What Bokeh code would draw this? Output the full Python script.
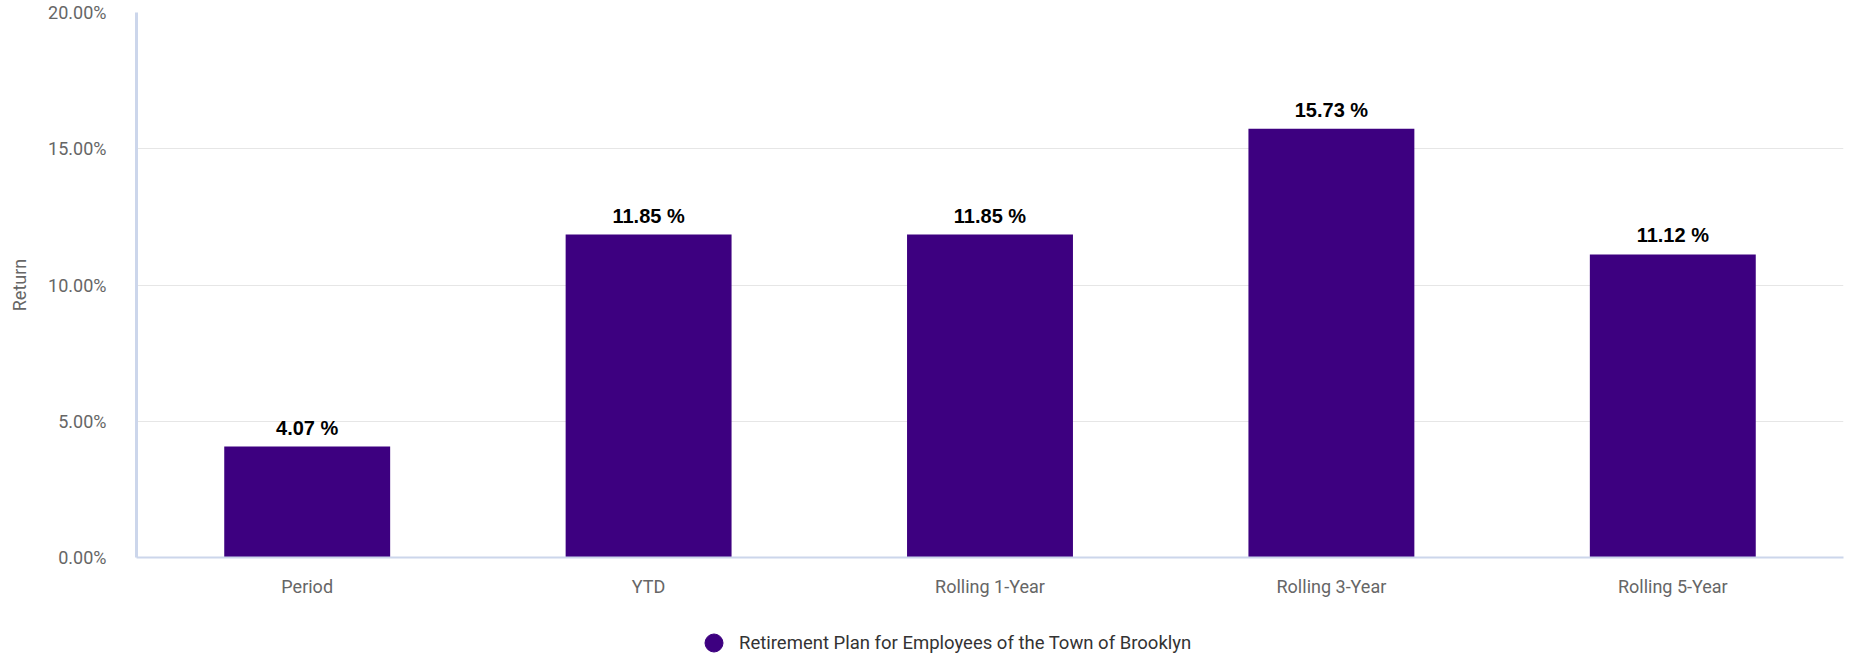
from bokeh.plotting import figure
from bokeh.layouts import column
from bokeh.models import (ColumnDataSource, FactorRange, Range1d, FixedTicker,
                          PrintfTickFormatter, LabelSet, Legend, LegendItem)
from bokeh.core.properties import value
from bokeh.embed import file_html
from bokeh.resources import INLINE

# ---- data ----
categories = ["Period", "YTD", "Rolling 1-Year", "Rolling 3-Year", "Rolling 5-Year"]
returns = [4.07, 11.85, 11.85, 15.73, 11.12]
series_name = "Retirement Plan for Employees of the Town of Brooklyn"
y_ticks = [0, 5, 10, 15, 20]

BAR_COLOR = "#3d0080"
AXIS_COLOR = "#ccd6eb"
GRID_COLOR = "#e6e6e6"
TICK_COLOR = "#666666"

labels = ["%.2f %%" % v for v in returns]
src = ColumnDataSource(data=dict(cat=categories, val=returns, lab=labels))

H1, H2 = 612, 47
xr = FactorRange(factors=categories)
p = figure(width=1851, height=H1, x_range=xr,
           y_range=Range1d(0, 20), output_backend="svg", toolbar_location=None,
           min_border_left=136, min_border_right=8, min_border_top=12,
           min_border_bottom=55)
p.outline_line_color = None
p.background_fill_color = "white"
p.border_fill_color = "white"

p.vbar(x="cat", top="val", width=0.486, source=src, fill_color=BAR_COLOR,
       line_color=None)

p.add_layout(LabelSet(x="cat", y="val", text="lab", source=src, y_offset=12,
                      text_align="center", text_baseline="alphabetic",
                      text_font=value("Liberation Sans"), text_font_style="bold",
                      text_font_size="20px", text_color="#000000"))

# grid
p.xgrid.grid_line_color = None
p.ygrid.grid_line_color = GRID_COLOR
p.ygrid.grid_line_width = 1

# y axis
ya = p.yaxis[0]
ya.ticker = FixedTicker(ticks=y_ticks)
ya.formatter = PrintfTickFormatter(format="%.2f%%")
ya.bounds = (0, 20)
ya.axis_line_color = AXIS_COLOR
ya.axis_line_width = 3
ya.major_tick_line_color = None
ya.minor_tick_line_color = None
ya.major_tick_out = 0
ya.major_tick_in = 0
ya.major_label_standoff = 30
ya.major_label_text_font = "Roboto"
ya.major_label_text_font_size = "18px"
ya.major_label_text_color = TICK_COLOR
ya.major_label_text_baseline = "middle"
ya.axis_label = "Return"
ya.axis_label_text_font = "Roboto"
ya.axis_label_text_font_size = "18px"
ya.axis_label_text_font_style = "normal"
ya.axis_label_text_color = TICK_COLOR
ya.axis_label_standoff = 15

# x axis
xa = p.xaxis[0]
xa.axis_line_color = AXIS_COLOR
xa.axis_line_width = 2
xa.major_tick_line_color = None
xa.minor_tick_line_color = None
xa.major_tick_out = 0
xa.major_tick_in = 0
xa.major_label_standoff = 18
xa.major_label_text_font = "Roboto"
xa.major_label_text_font_size = "18px"
xa.major_label_text_color = TICK_COLOR

# legend strip below the chart (series swatch proxy lies outside its visible range)
p2 = figure(width=1851, height=H2, x_range=xr, y_range=Range1d(-2, -1),
            output_backend="svg", toolbar_location=None,
            x_axis_location=None, y_axis_location=None,
            min_border_left=0, min_border_right=0, min_border_top=0,
            min_border_bottom=0)
p2.outline_line_color = None
p2.xgrid.grid_line_color = None
p2.ygrid.grid_line_color = None
p2.border_fill_color = "white"
p2.background_fill_color = "white"
leg_r = p2.scatter(x="cat", y="val", source=src, marker="circle", size=18,
                   fill_color=BAR_COLOR, line_color=BAR_COLOR)
legend = Legend(items=[LegendItem(label=series_name, renderers=[leg_r], index=0)],
                location=(555, -6), orientation="horizontal",
                glyph_width=45, glyph_height=45, label_standoff=3,
                padding=0, margin=0, border_line_color=None,
                background_fill_alpha=0, label_text_font="Roboto",
                label_text_font_size="18.5px", label_text_color="#333333")
p2.add_layout(legend, "center")

open("out.html", "w").write(file_html(column(p, p2, spacing=0), INLINE))
